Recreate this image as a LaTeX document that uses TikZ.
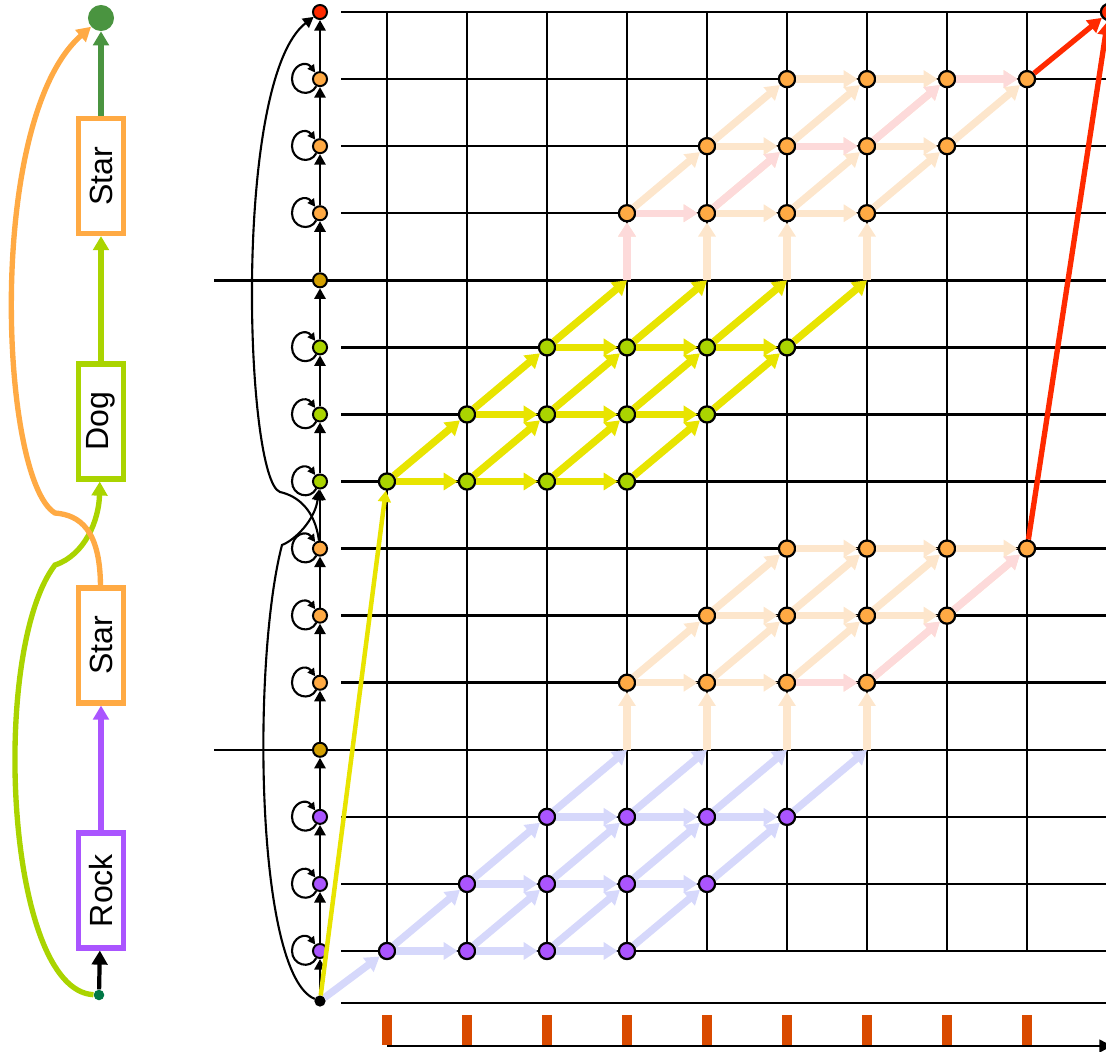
\documentclass[tikz,border=0pt]{standalone}
\usepackage{fontspec}
\setmainfont{Liberation Sans}
\usetikzlibrary{arrows.meta,positioning}
\definecolor{RockPurple}{RGB}{170,85,255}
\definecolor{StarOrange}{RGB}{255,170,68}
\definecolor{DogGreen}{RGB}{170,212,0}
\definecolor{JoinGold}{RGB}{212,160,0}
\definecolor{EndRed}{RGB}{255,42,0}
\definecolor{EndGreen}{RGB}{74,148,64}
\definecolor{StartGreen}{RGB}{0,120,70}
\definecolor{SoftLavender}{RGB}{214,216,251}
\definecolor{SoftPeach}{RGB}{253,230,204}
\definecolor{SoftPink}{RGB}{253,218,218}
\definecolor{PathYellow}{RGB}{232,228,0}
\definecolor{TickOrange}{RGB}{217,74,0}
\tikzset{
  wordbox/.style={draw,line width=3.6pt,fill=white,rotate=90,inner sep=0pt,
    minimum width=2.875cm,minimum height=1.125cm,
    font=\fontsize{22.8}{26}\selectfont},
  state/.style={circle,draw,line width=1.4pt,minimum size=10pt,inner sep=0pt},
  lat/.style={circle,draw,line width=1.6pt,minimum size=11.5pt,inner sep=0pt},
  gridline/.style={line width=1.8pt},
  hop/.style={-{Triangle[length=7.5pt,width=8pt]},line width=1.5pt},
  selfhop/.style={-{Triangle[length=5.5pt,width=5.5pt]},line width=1.5pt},
  trans/.style={-{Triangle[length=10pt,width=12pt]},line width=5.2pt},
  chain/.style={-{Triangle[length=10pt,width=11pt]},line width=3.8pt}
}

\begin{document}
\begin{tikzpicture}[x=0.025cm,y=-0.025cm]
\useasboundingbox (0,0) rectangle (1106,1052);

% Word chain
\node[circle,fill=StartGreen,inner sep=0pt,minimum size=7.5pt] (st) at (99,995) {};
\node[circle,fill=EndGreen,inner sep=0pt,minimum size=18.5pt] (fin0) at (101,18) {};
\node[wordbox,draw=RockPurple] (rock) at (101,890.5) {Rock};
\node[wordbox,draw=StarOrange] (star1) at (101,645.5) {Star};
\node[wordbox,draw=DogGreen] (dog) at (101,421.5) {Dog};
\node[wordbox,draw=StarOrange] (star2) at (101,176) {Star};

\draw[chain,black,line width=3pt] (st) -- (rock);
\draw[chain,RockPurple] (rock) -- (star1);
\draw[chain,DogGreen] (dog) -- (star2);
\draw[chain,EndGreen] (star2) -- (fin0);
\draw[chain,DogGreen] (st) .. controls (5,990) and (-10,650) .. (55,565)
  .. controls (85,555) and (99,520) .. (dog);
\draw[chain,StarOrange] (star1) .. controls (100,530) and (80,515) .. (55,513)
  .. controls (0,480) and (-15,120) .. (fin0);

% Grid
\foreach \r in {1,2,3,5,6,7,8,9,10,12,13,14,15}
  \draw[gridline] (341,{951-67.07*(\r-1)}) -- (1106,{951-67.07*(\r-1)});
\foreach \r in {4,11}
  \draw[gridline] (214,{951-67.07*(\r-1)}) -- (1106,{951-67.07*(\r-1)});
\foreach \c in {1,...,9}
  \draw[gridline] ({387+80*(\c-1)},12) -- ({387+80*(\c-1)},951);
\draw[gridline] (341,1003) -- (1106,1003);

% Time axis
\foreach \c in {1,...,9}
  \fill[TickOrange] ({382+80*(\c-1)},1015) rectangle ++(10,30);
\draw[gridline,-{Triangle[length=9pt,width=9pt]}] (387,1046) -- (1112,1046);

% State column
\node[state,fill=black,minimum size=6.5pt] (s0) at (320,1001) {};
\foreach \r/\col in {1/RockPurple,2/RockPurple,3/RockPurple,4/JoinGold,
    5/StarOrange,6/StarOrange,7/StarOrange,8/DogGreen,9/DogGreen,10/DogGreen,
    11/JoinGold,12/StarOrange,13/StarOrange,14/StarOrange,15/EndRed}
  \node[state,fill=\col] (s\r) at (320,{951-67.07*(\r-1)}) {};
\foreach \r in {0,...,14} {
  \pgfmathtruncatemacro\rn{\r+1}
  \draw[hop] (s\r) -- (s\rn);
}
\foreach \r in {1,2,3,5,6,7,8,9,10,12,13,14} {
  \pgfmathsetmacro\yy{951-67.07*(\r-1)}
  \draw[selfhop] (s\r) .. controls (310,\yy+19) and (292,\yy+14) .. (292,\yy)
    .. controls (292,\yy-14) and (306,\yy-19) .. (s\r);
}
\draw[hop] (s0) .. controls (255,975) and (252,660) .. (282,545)
  .. controls (295,540) and (315,520) .. (s8);
\draw[hop] (s7) .. controls (315,510) and (298,496) .. (280,492)
  .. controls (245,480) and (232,80) .. (s15);

% Lattice nodes
\foreach \cz/\rz/\col in {1/1/RockPurple,4/5/StarOrange,1/8/DogGreen,4/12/StarOrange}
  \foreach \k in {0,1,2}
    \foreach \j in {0,...,3} {
      \pgfmathtruncatemacro\c{\cz+\k+\j}
      \pgfmathtruncatemacro\r{\rz+\k}
      \node[lat,fill=\col] (n-\c-\r) at ({387+80*(\c-1)},{951-67.07*(\r-1)}) {};
    }
\foreach \r in {4,11}
  \foreach \c in {4,...,7}
    \coordinate (m-\c-\r) at ({387+80*(\c-1)},{951-67.07*(\r-1)});
\node[lat,fill=EndRed] (fin) at (1109,12) {};

% Lattice arrows
\foreach \cz/\rz/\col in {1/1/SoftLavender,4/5/SoftPeach,1/8/PathYellow,4/12/SoftPeach} {
  \foreach \k in {0,1,2}
    \foreach \j in {0,1,2} {
      \pgfmathtruncatemacro\a{\cz+\k+\j}
      \pgfmathtruncatemacro\b{\a+1}
      \pgfmathtruncatemacro\r{\rz+\k}
      \draw[trans,color=\col] (n-\a-\r) -- (n-\b-\r);
    }
  \foreach \k in {0,1}
    \foreach \j in {0,...,3} {
      \pgfmathtruncatemacro\a{\cz+\k+\j}
      \pgfmathtruncatemacro\b{\a+1}
      \pgfmathtruncatemacro\r{\rz+\k}
      \pgfmathtruncatemacro\q{\r+1}
      \draw[trans,color=\col] (n-\a-\r) -- (n-\b-\q);
    }
}
\foreach \rz/\col in {1/SoftLavender,8/PathYellow}
  \foreach \j in {0,...,3} {
    \pgfmathtruncatemacro\a{3+\j}
    \pgfmathtruncatemacro\b{4+\j}
    \pgfmathtruncatemacro\r{\rz+2}
    \pgfmathtruncatemacro\q{\rz+3}
    \draw[trans,color=\col] (n-\a-\r) -- (m-\b-\q);
  }
\foreach \rz in {5,12}
  \foreach \c in {4,...,7} {
    \pgfmathtruncatemacro\r{\rz-1}
    \draw[trans,color=SoftPeach] (m-\c-\r) -- (n-\c-\rz);
  }

% Best path
\foreach \a/\b in {n-6-5/n-7-5,n-7-5/n-8-6,n-8-6/n-9-7,m-4-11/n-4-12,
    n-4-12/n-5-12,n-5-12/n-6-13,n-6-13/n-7-13,n-7-13/n-8-14,n-8-14/n-9-14}
  \draw[trans,color=SoftPink] (\a) -- (\b);

% Entries and exits
\draw[trans,color=SoftLavender] (s0) -- (n-1-1);
\draw[color=PathYellow,line width=3.2pt,-{Triangle[length=8pt,width=9pt]}] (s0) -- (n-1-8);
\draw[color=EndRed,line width=3.8pt,-{Triangle[length=10pt,width=11pt]}] (n-9-14) -- (fin);
\draw[color=EndRed,line width=3.8pt,-{Triangle[length=10pt,width=11pt]}] (n-9-7) -- (fin);

\end{tikzpicture}
\end{document}
